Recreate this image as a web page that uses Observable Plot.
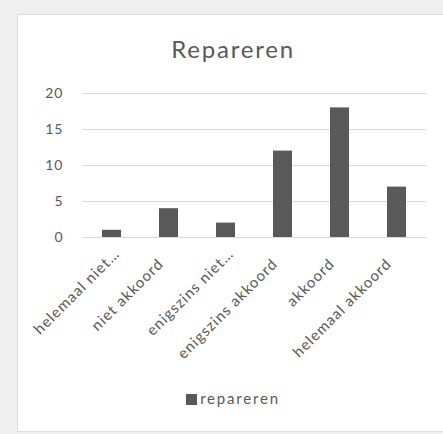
<!DOCTYPE html>
<html>
<head>
<meta charset="utf-8">
<script src="https://cdn.jsdelivr.net/npm/d3@7"></script>
<script src="https://cdn.jsdelivr.net/npm/@observablehq/plot@0.6"></script>
<style>
  html, body { margin: 0; padding: 0; background: #efefef; width: 443px; height: 434px; overflow: hidden; }
  #card { position: absolute; left: 17px; top: 14px; width: 440px; height: 416px; background: #fff; border: 1px solid #dcdcdc; }
  #title { position: absolute; left: 0; top: 34px; width: 466px; text-align: center; font-family: Lato, sans-serif; font-size: 24px; letter-spacing: 1.8px; color: #595959; }
  #chart { position: absolute; left: 0; top: 80px; }
  #chart svg { overflow: visible; }
  #legend { position: absolute; left: 0; top: 389px; width: 466px; text-align: center; font-family: Lato, sans-serif; font-size: 15px; letter-spacing: 1.8px; color: #595959; }
  #legend .sw { display: inline-block; width: 11px; height: 11px; background: #595959; vertical-align: -1px; margin-right: 3px; }
  #chart svg text { letter-spacing: 1.05px; }
  #chart svg g[aria-label="y-axis tick label"] text { letter-spacing: 1px; }
</style>
</head>
<body>
<div id="card"></div>
<div id="title">Repareren</div>
<div id="chart"></div>
<div id="legend"><span class="sw"></span>repareren</div>
<script>
const categories = ["helemaal niet akkoord", "niet akkoord", "enigszins niet akkoord", "enigszins akkoord", "akkoord", "helemaal akkoord"];
const tickLabels = ["helemaal niet…", "niet akkoord", "enigszins niet…", "enigszins akkoord", "akkoord", "helemaal akkoord"];
const values = [1, 4, 2, 12, 18, 7];
const yTicks = [0, 5, 10, 15, 20];

const data = categories.map((c, i) => ({category: c, value: values[i]}));
const labelOf = new Map(categories.map((c, i) => [c, tickLabels[i]]));
const truncated = categories.filter((c, i) => tickLabels[i].endsWith("…"));
const full = categories.filter((c, i) => !tickLabels[i].endsWith("…"));

const axisStyle = {tickSize: 0, tickRotate: -45, fontSize: 15, fill: "#595959", label: null, tickFormat: d => labelOf.get(d)};

const chart = Plot.plot({
  width: 443,
  height: 300,
  marginTop: 13,
  marginLeft: 82,
  marginRight: 17,
  marginBottom: 143,
  style: {fontFamily: "Lato, sans-serif", fontSize: "15px", color: "#595959", background: "transparent", overflow: "visible"},
  x: {domain: categories, paddingInner: 0.67, paddingOuter: 0.335, label: null},
  y: {domain: [0, 20], label: null},
  marks: [
    Plot.gridY(yTicks, {stroke: "#d9d9d9", strokeOpacity: 1, strokeWidth: 1}),
    Plot.axisY({ticks: yTicks, tickSize: 0, tickPadding: 19, fontSize: 14, fill: "#595959", label: null}),
    Plot.barY(data, {x: "category", y: "value", fill: "#595959"}),
    Plot.ruleY([0], {stroke: "#d9d9d9"}),
    Plot.axisX({...axisStyle, ticks: full, tickPadding: 24, dx: -8}),
    Plot.axisX({...axisStyle, ticks: truncated, tickPadding: 14, dx: 5})
  ]
});
document.getElementById("chart").appendChild(chart);
</script>
</body>
</html>
